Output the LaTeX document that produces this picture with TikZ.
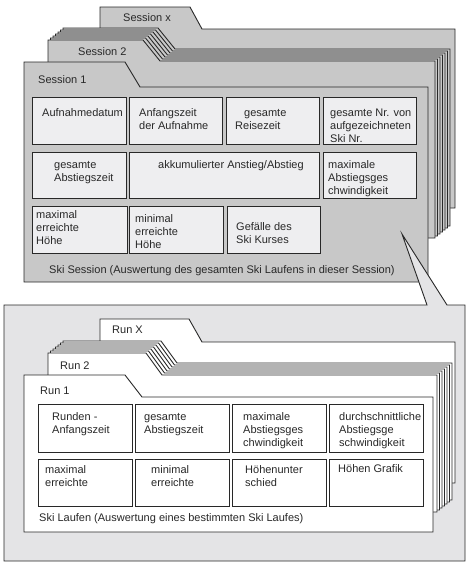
\documentclass[tikz,border=0pt]{standalone}
\usepackage{fontspec}
\setmainfont{Liberation Sans}
\definecolor{sessfill}{RGB}{200,200,200}
\definecolor{boxfill}{RGB}{238,238,240}
\definecolor{callfill}{RGB}{228,228,230}
\definecolor{ink}{RGB}{40,40,40}
\tikzset{
 sessfolder/.style={draw=ink, fill=sessfill, line width=0.9pt, line join=miter},
 runfolder/.style={draw=ink, fill=white, line width=0.9pt, line join=miter},
 sbox/.style={draw=ink, fill=boxfill, line width=1.1pt, inner sep=0pt, anchor=north west},
 rbox/.style={draw=ink, fill=white, line width=1.1pt, inner sep=0pt, anchor=north west},
 txt/.style={inner sep=0pt, anchor=base west, align=left, font=\fontsize{11}{13}\selectfont, text=ink},
 callout/.style={draw=ink, fill=callfill, line width=0.9pt, line join=miter},
}
% #1 style, #2 x0, #3 ytab, #4 xt, #5 xs, #6 ybody, #7 xr, #8 ybot
\newcommand\drawfolder[8]{\draw[#1] (#2,#8) -- (#2,#3) -- (#4,#3) -- (#5,#6) -- (#7,#6) -- (#7,#8) -- cycle;}
\newcommand\mkcell[6]{\node[#1, minimum width={#5pt-#3pt}, minimum height={#6pt-#4pt}] (#2) at (#3,#4) {};}
\begin{document}
\begin{tikzpicture}[x=1pt,y=-1pt]
\useasboundingbox (0,0) rectangle (470,562);

% ---------- Sessions ----------
\drawfolder{sessfolder}{100}{7}{190}{202}{29}{455}{208}
\node[txt] (lsx) at (123,21) {Session x};
\foreach \k in {6,5,...,1} {
  \drawfolder{sessfolder,shift={(2.5*\k,-2*\k)}}{48}{40}{143}{160}{61}{435}{238}
}
\drawfolder{sessfolder}{48}{40}{143}{160}{61}{435}{238}
\node[txt] (ls2) at (78,55) {Session 2};
\drawfolder{sessfolder}{24}{62}{125}{140}{87}{428}{282}
\node[txt] (ls1) at (38,83) {Session 1};

\mkcell{sbox}{s11}{32}{97}{126}{144}
\mkcell{sbox}{s12}{129}{97}{222}{144}
\mkcell{sbox}{s13}{226}{97}{319}{144}
\mkcell{sbox}{s14}{323}{97}{416}{144}
\mkcell{sbox}{s21}{32}{152}{126}{198}
\mkcell{sbox}{s22}{129}{152}{319}{198}
\mkcell{sbox}{s23}{323}{152}{416}{198}
\mkcell{sbox}{s31}{32}{206}{127}{253}
\mkcell{sbox}{s32}{129}{206}{223}{253}
\mkcell{sbox}{s33}{227}{206}{320}{253}

% base anchor of a multi-line node = baseline of its last line
\node[txt] (ts11) at (42,116) {Aufnahmedatum};
\node[txt] (ts12) at (139,129) {Anfangszeit\\der Aufnahme};
\node[txt] (ts13) at (235,129) {\hspace*{9pt}gesamte\\Reisezeit};
\node[txt] (ts14) at (330,142) {gesamte Nr. von\\aufgezeichneten\\Ski Nr.};
\node[txt] (ts21) at (54,181) {gesamte\\Abstiegszeit};
\node[txt] (ts22) at (158,168) {akkumulierter Anstieg/Abstieg};
\node[txt] (ts23) at (328,194) {maximale\\Abstiegsges\\chwindigkeit};
\node[txt] (ts31) at (36,244) {maximal\\erreichte\\Höhe};
\node[txt] (ts32) at (135,248) {minimal\\erreichte\\Höhe};
\node[txt] (ts33) at (236,243) {Gefälle des\\Ski Kurses};
\node[txt] (tscap) at (49,273) {Ski Session (Auswertung des gesamten Ski Laufens in dieser Session)};

% ---------- Callout ----------
\draw[callout] (4,305) -- (427,305) -- (402,234) -- (447,305) -- (465,305) -- (465,561) -- (4,561) -- cycle;

% ---------- Runs ----------
\drawfolder{runfolder}{100}{319}{189}{202}{342}{455}{483}
\node[txt] (lrx) at (112,333) {Run X};
\foreach \k in {6,5,...,1} {
  \drawfolder{runfolder,shift={(2.5*\k,-2*\k)}}{48}{353}{146}{162}{375}{437}{512}
}
\drawfolder{runfolder}{48}{353}{146}{162}{375}{437}{512}
\node[txt] (lr2) at (60,369) {Run 2};
\drawfolder{runfolder}{24}{375}{125}{142}{397}{433}{532}
\node[txt] (lr1) at (40,394) {Run 1};

\mkcell{rbox}{r11}{38}{404}{132}{452}
\mkcell{rbox}{r12}{135}{404}{229}{452}
\mkcell{rbox}{r13}{232}{404}{326}{452}
\mkcell{rbox}{r14}{329}{404}{423}{452}
\mkcell{rbox}{r21}{38}{459}{132}{506}
\mkcell{rbox}{r22}{135}{459}{229}{506}
\mkcell{rbox}{r23}{232}{459}{326}{506}
\mkcell{rbox}{r24}{329}{459}{423}{506}

\node[txt] (tr11) at (52,433) {Runden -\\Anfangszeit};
\node[txt] (tr12) at (144,433) {gesamte\\Abstiegszeit};
\node[txt] (tr13) at (243,446) {maximale\\Abstiegsges\\chwindigkeit};
\node[txt] (tr14) at (339,446) {durchschnittliche\\Abstiegsge\\schwindigkeit};
\node[txt] (tr21) at (45,486) {maximal\\erreichte};
\node[txt] (tr22) at (151,486) {minimal\\erreichte};
\node[txt] (tr23) at (245,486) {Höhenunter\\schied};
\node[txt] (tr24) at (338,472) {Höhen Grafik};
\node[txt] (trcap) at (39,521) {Ski Laufen (Auswertung eines bestimmten Ski Laufes)};
\end{tikzpicture}
\end{document}
